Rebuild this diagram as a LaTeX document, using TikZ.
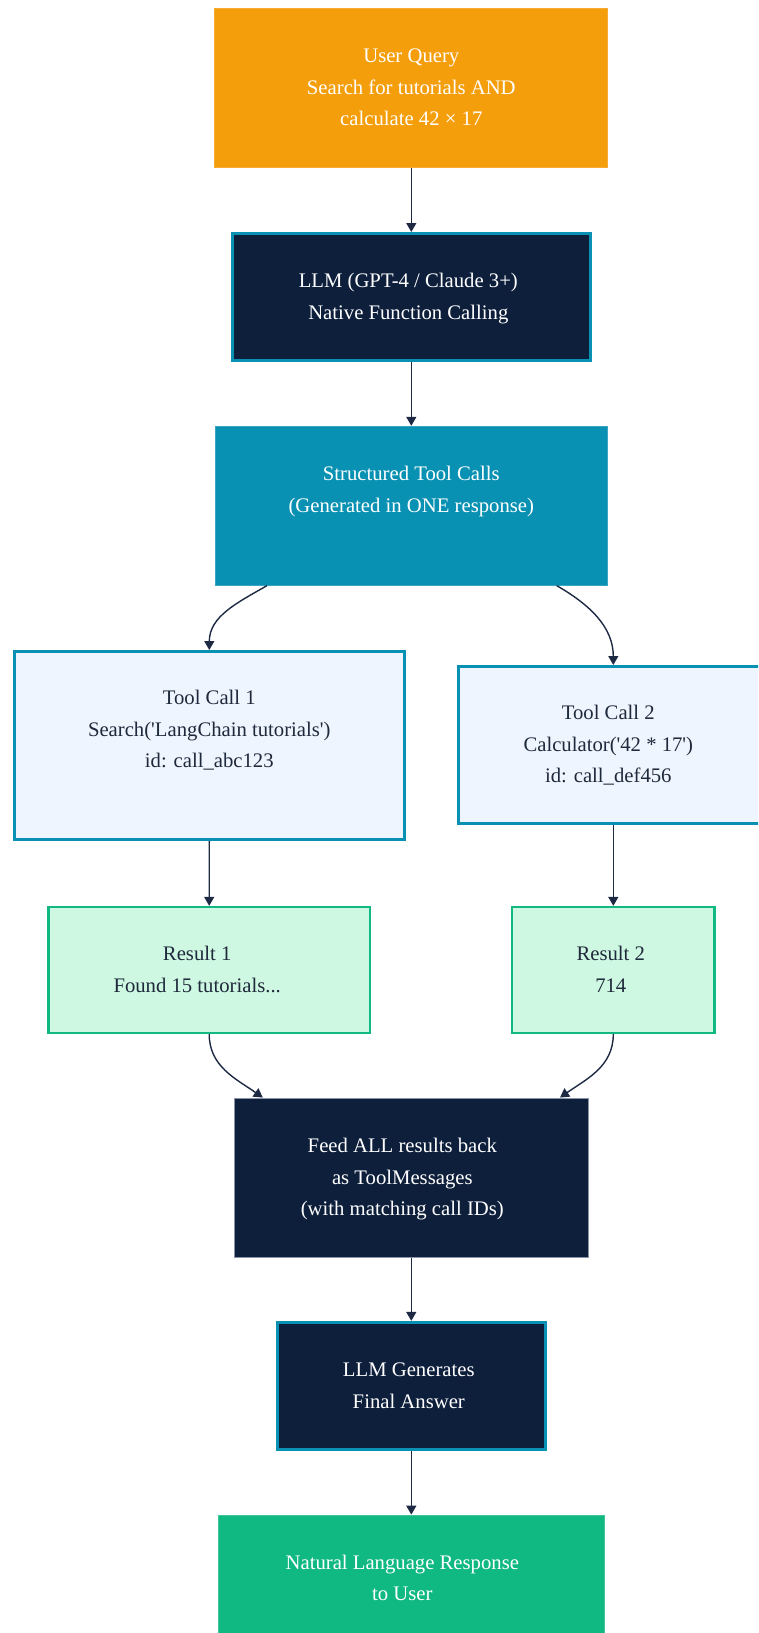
\documentclass[tikz,border=0pt]{standalone}
\usepackage{fontspec}
\setmainfont{Liberation Serif}
\usetikzlibrary{arrows.meta}

\definecolor{amber}{HTML}{F59E0B}
\definecolor{amberedge}{HTML}{F6AC34}
\definecolor{navy}{HTML}{0E1F3C}
\definecolor{teal}{HTML}{0891B2}
\definecolor{tealedge}{HTML}{3AA5C2}
\definecolor{paleblue}{HTML}{EFF5FE}
\definecolor{palegreen}{HTML}{CFF8E2}
\definecolor{green}{HTML}{10B981}
\definecolor{greenedge}{HTML}{3FC597}
\definecolor{greyedge}{HTML}{8A94A6}
\definecolor{ink}{HTML}{1E293B}
\definecolor{arrowc}{HTML}{1E2A44}

% centred block of lines, moved sideways by half of #1
\newcommand{\boxtext}[2]{\hspace*{#1}\begin{tabular}{@{}c@{}}#2\end{tabular}}
\newcommand{\sq}{\textquotesingle}

\begin{document}
\begin{tikzpicture}[x=1pt,y=-1pt,
  base/.style={rectangle, inner sep=0pt, font=\fontsize{20.7}{31.5}\selectfont},
  querybox/.style={base, fill=amber, draw=amberedge, line width=0.8pt, text=white},
  llmbox/.style={base, fill=navy, draw=teal, line width=3pt, text=white},
  callsbox/.style={base, fill=teal, draw=tealedge, line width=0.8pt, text=white},
  toolbox/.style={base, fill=paleblue, draw=teal, line width=3pt, text=ink},
  resultbox/.style={base, fill=palegreen, draw=green, line width=2.6pt, text=ink},
  feedbox/.style={base, fill=navy, draw=greyedge, line width=0.8pt, text=white},
  answerbox/.style={base, fill=green, draw=greenedge, line width=0.8pt, text=white},
  arr/.style={draw=arrowc, line width=1.4pt, -{Triangle[length=9pt,width=10pt]}}
]
\useasboundingbox (0,0) rectangle (758,1633);
\clip (0,0) rectangle (758,1633);
\fill[white] (0,0) rectangle (758,1633);

% main column
\node[querybox, minimum width=393pt, minimum height=159pt] (uq) at (411.3,88)
  {\boxtext{0pt}{User Query\\Search for tutorials AND\\calculate 42 × 17}};
\node[llmbox, minimum width=357.7pt, minimum height=127pt] (llm) at (411.3,297)
  {\boxtext{-6pt}{LLM (GPT-4 / Claude 3+)\\Native Function Calling}};
\node[callsbox, minimum width=391.5pt, minimum height=159pt] (sc) at (411.3,505.7)
  {\boxtext{0pt}{Structured Tool Calls\\(Generated in ONE response)\\\mbox{}}};

% the two parallel tool calls
\node[toolbox, minimum width=390.3pt, minimum height=188pt] (tc1) at (209.3,745.5)
  {\boxtext{0pt}{Tool Call 1\\Search(\sq LangChain tutorials\sq)\\id: call\_abc123\\\mbox{}}};
\node[toolbox, minimum width=310.3pt, minimum height=157pt] (tc2) at (613.3,745)
  {\boxtext{-10pt}{Tool Call 2\\Calculator(\sq 42 * 17\sq)\\id: call\_def456}};

\node[resultbox, minimum width=321.4pt, minimum height=125.7pt] (r1) at (209.2,970)
  {\boxtext{-24pt}{Result 1\\Found 15 tutorials...}};
\node[resultbox, minimum width=202.7pt, minimum height=125.7pt] (r2) at (613.3,970)
  {\boxtext{-5pt}{Result 2\\714}};

% merge and answer
\node[feedbox, minimum width=353.5pt, minimum height=159.5pt] (feed) at (411.3,1177.7)
  {\boxtext{-18pt}{Feed ALL results back\\as ToolMessages\\(with matching call IDs)}};
\node[llmbox, minimum width=267.7pt, minimum height=127.3pt] (gen) at (411.3,1386)
  {\boxtext{-5pt}{LLM Generates\\Final Answer}};
\node[answerbox, minimum width=386.6pt, minimum height=127pt] (nat) at (411.3,1578.5)
  {\boxtext{-18pt}{Natural Language Response\\to User}};

% connectors
\draw[arr] (uq.south) -- (llm.north);
\draw[arr] (llm.south) -- (sc.north);
\draw[arr] ([xshift=-144.3pt]sc.south) to[out=210,in=90] (tc1.north);
\draw[arr] ([xshift=145.4pt]sc.south) to[out=-30,in=90] (tc2.north);
\draw[arr] (tc1.south) -- (r1.north);
\draw[arr] (tc2.south) -- (r2.north);
\draw[arr] (r1.south) to[out=-90,in=145] ([xshift=-148.5pt]feed.north);
\draw[arr] (r2.south) to[out=-90,in=35] ([xshift=148.7pt]feed.north);
\draw[arr] (feed.south) -- (gen.north);
\draw[arr] (gen.south) -- (nat.north);
\end{tikzpicture}
\end{document}
